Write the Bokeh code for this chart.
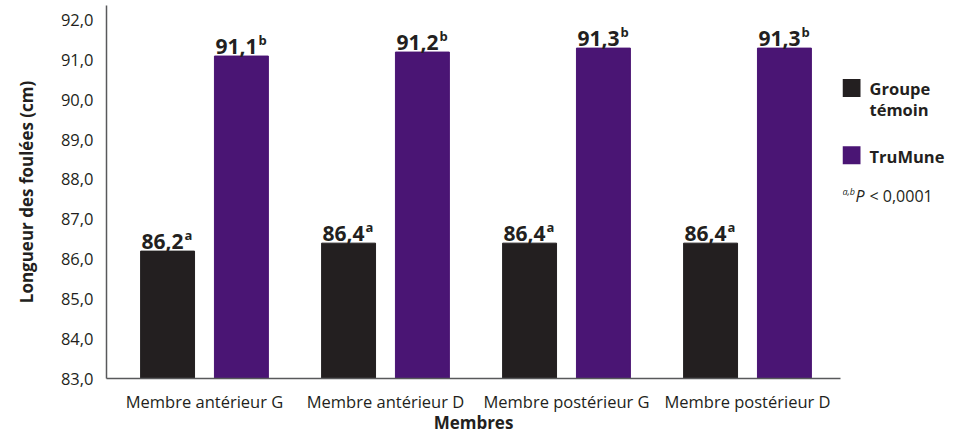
from bokeh.plotting import figure
from bokeh.layouts import row
from bokeh.models import ColumnDataSource, Range1d, FixedTicker
from bokeh.core.properties import value
from bokeh.embed import file_html
from bokeh.resources import INLINE

categories = ["Membre antérieur G", "Membre antérieur D", "Membre postérieur G", "Membre postérieur D"]
temoin = [86.2, 86.4, 86.4, 86.4]
trumune = [91.1, 91.2, 91.3, 91.3]
temoin_sup = ["a", "a", "a", "a"]
trumune_sup = ["b", "b", "b", "b"]
y_ticks = [83, 84, 85, 86, 87, 88, 89, 90, 91, 92]
series_names = ["Groupe", "témoin", "TruMune"]
colors = ["#231f20", "#4a1574"]
note_text = ["a,b", "P", "< 0,0001"]

FONT = "Open Sans"
TXT = "#231f20"
H = 436

pos = [i + 1 for i in range(len(categories))]
off = 0.204
bw = 0.298

def fmt(v):
    return f"{v:.1f}".replace(".", ",")

src_t = ColumnDataSource(dict(x=[p_ - off for p_ in pos], top=temoin,
                              lab=[fmt(v) for v in temoin], sup=temoin_sup))
src_m = ColumnDataSource(dict(x=[p_ + off for p_ in pos], top=trumune,
                              lab=[fmt(v) for v in trumune], sup=trumune_sup))

p = figure(width=842, height=H, x_range=Range1d(0.4586, 4.5138), y_range=Range1d(83, 92.37),
           output_backend="svg", toolbar_location=None,
           min_border_left=106, min_border_right=2, min_border_top=5, min_border_bottom=55)
p.outline_line_color = None
p.xgrid.grid_line_color = None
p.ygrid.grid_line_color = None

r1 = p.vbar(x="x", top="top", bottom=83, width=bw, color=colors[0], source=src_t)
r2 = p.vbar(x="x", top="top", bottom=83, width=bw, color=colors[1], source=src_m)

for src in (src_t, src_m):
    p.text(x="x", y="top", text="lab", source=src, text_font=value(FONT), text_font_style="bold",
           text_font_size="21px", text_color=TXT, text_align="right", text_baseline="alphabetic",
           x_offset=16, y_offset=-10)
    p.text(x="x", y="top", text="sup", source=src, text_font=value(FONT), text_font_style="bold",
           text_font_size="13px", text_color=TXT, text_align="left", text_baseline="alphabetic",
           x_offset=17, y_offset=-16)

# axes
p.xaxis.ticker = FixedTicker(ticks=pos)
p.xaxis.major_label_overrides = {p_: c for p_, c in zip(pos, categories)}
p.yaxis.ticker = FixedTicker(ticks=y_ticks)
p.yaxis.major_label_overrides = {t: f"{t},0" for t in y_ticks}
for ax in (p.xaxis[0], p.yaxis[0]):
    ax.axis_line_color = "#58595b"
    ax.axis_line_width = 1.5
    ax.major_tick_line_color = None
    ax.minor_tick_line_color = None
    ax.major_tick_out = 0
    ax.major_tick_in = 0
    ax.minor_tick_out = 0
    ax.major_label_text_font = FONT
    ax.major_label_text_font_size = "16.5px"
    ax.major_label_text_color = TXT
    ax.axis_label_text_font = FONT
    ax.axis_label_text_font_style = "bold"
    ax.axis_label_text_font_size = "17px"
    ax.axis_label_text_color = TXT
p.xaxis.axis_label = "Membres"
p.yaxis.axis_label = "Longueur des foulées (cm)"
p.xaxis.major_label_standoff = 11
p.xaxis.axis_label_standoff = -5
p.yaxis.major_label_standoff = 13
p.yaxis.axis_label_standoff = 20

# legend panel: a second canvas to the right, sharing the plot's vertical scale
LW = 103
q = figure(width=LW, height=H, x_range=Range1d(0, LW), y_range=p.y_range,
           output_backend="svg", toolbar_location=None,
           min_border_left=0, min_border_right=0, min_border_top=5, min_border_bottom=55)
q.axis.visible = False
q.grid.grid_line_color = None
q.outline_line_color = None

sq = ColumnDataSource(dict(x=[9, 9], y=[90.30, 88.61], c=colors))
q.rect(x="x", y="y", width=18, height=18, width_units="screen", height_units="screen",
       fill_color="c", line_color=None, source=sq)
leg = ColumnDataSource(dict(x=[27, 27, 27], y=[90.277, 89.754, 88.582], t=series_names))
q.text(x="x", y="y", text="t", source=leg, text_font=value(FONT), text_font_style="bold",
       text_font_size="16.5px", text_color=TXT, text_align="left", text_baseline="middle")
q.text(x=[0], y=[87.71], text=[note_text[0]], text_font=value(FONT), text_font_style="italic",
       text_font_size="9px", text_color=TXT, text_baseline="alphabetic")
q.text(x=[13], y=[87.586], text=[note_text[1]], text_font=value(FONT), text_font_style="italic",
       text_font_size="16px", text_color=TXT, text_baseline="alphabetic")
q.text(x=[27], y=[87.586], text=[note_text[2]], text_font=value(FONT),
       text_font_size="16px", text_color=TXT, text_baseline="alphabetic")

open("out.html", "w").write(file_html(row(p, q), INLINE))
